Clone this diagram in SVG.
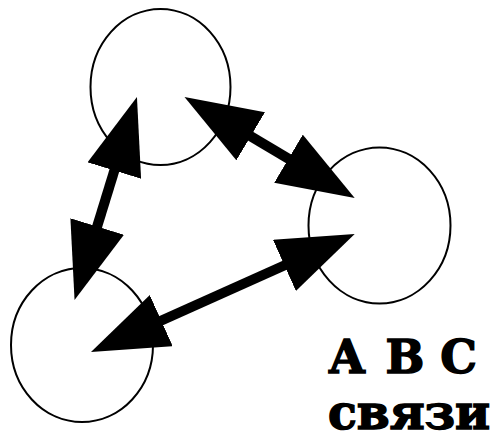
<svg xmlns="http://www.w3.org/2000/svg" width="493" height="440" viewBox="0 0 493 440">
<style>
.node{fill:none;stroke:#000;stroke-width:2}
.edge{stroke:#000;stroke-width:10;fill:none;marker-start:url(#head);marker-end:url(#head)}
.lbl{font-family:"DejaVu Serif","Liberation Serif",serif;font-weight:bold;fill:#000;stroke:#000;stroke-width:1.5}
</style>
<defs>
<marker id="head" viewBox="0 0 77 56" refX="37" refY="28" markerWidth="77" markerHeight="56" markerUnits="userSpaceOnUse" orient="auto-start-reverse">
<path d="M0,0 L77,28 L0,56 z" fill="#000"/>
</marker>
</defs>
<g id="node-top"><ellipse class="node" cx="160.5" cy="87" rx="70" ry="78"/></g>
<g id="node-right"><ellipse class="node" cx="379.5" cy="225.5" rx="71" ry="78"/></g>
<g id="node-left"><ellipse class="node" cx="82" cy="345" rx="71" ry="77"/></g>
<g id="connectors">
<line class="edge" x1="125.2" y1="135.2" x2="86.3" y2="261.8"/>
<line class="edge" x1="218.9" y1="117.4" x2="320.3" y2="177.6"/>
<line class="edge" x1="127.5" y1="335.7" x2="318.2" y2="250.3"/>
</g>
<g id="label">
<text class="lbl" font-size="46" text-anchor="middle" x="347" y="373">А</text>
<text class="lbl" font-size="46" text-anchor="middle" x="405" y="373">В</text>
<text class="lbl" font-size="46" text-anchor="middle" x="458.5" y="373">С</text>
<text class="lbl" font-size="48" x="328" y="429" textLength="162" lengthAdjust="spacingAndGlyphs">связи</text>
</g>
</svg>
